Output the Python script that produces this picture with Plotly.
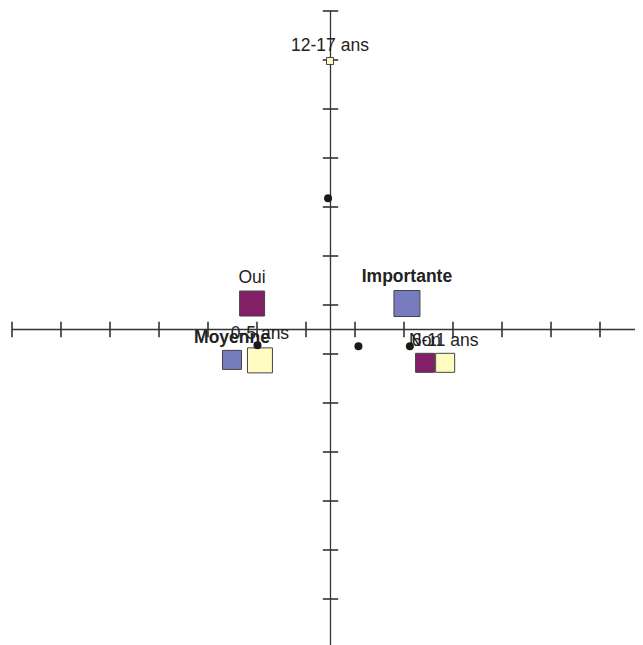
import plotly.graph_objects as go

# modalités (carrés) : coordonnées factorielles
purple_labels = ["Oui", "Non"]
purple_x = [-0.160, 0.193]
purple_y = [0.053, -0.068]
purple_size = [25, 19]

blue_labels = ["<b>Importante</b>", "<b>Moyenne</b>"]
blue_x = [0.156, -0.201]
blue_y = [0.053, -0.062]
blue_size = [26, 19]

yellow_labels = ["0-5 ans", "6-11 ans", "12-17 ans"]
yellow_x = [-0.144, 0.234, -0.001]
yellow_y = [-0.063, -0.068, 0.548]
yellow_size = [25, 19, 7]

# points supplémentaires (ronds noirs)
dot_x = [-0.005, -0.149, 0.057, 0.162]
dot_y = [0.268, -0.032, -0.034, -0.034]

# graduations des axes
ticks = [-0.65, -0.55, -0.45, -0.35, -0.25, -0.15, -0.05,
         0.05, 0.15, 0.25, 0.35, 0.45, 0.55, 0.65]
axis_min, axis_max = -0.65, 0.65

axis_color = "#333333"
text_font = dict(family="Arial, Liberation Sans, sans-serif", size=17.5, color="#222222")

# la page a une marge de 8 px : le graphique commence en (8, 8)
page_off = 8
fig_w, fig_h = 643 - page_off, 645 - page_off
x0_px, y0_px, px_per_unit = 330.5, 329.5, 490

fig = go.Figure()

# axes croisés en 0
fig.add_trace(go.Scatter(x=[axis_min, axis_max], y=[0, 0], mode="lines",
                         line=dict(color=axis_color, width=1.3), hoverinfo="skip"))
fig.add_trace(go.Scatter(x=[0, 0], y=[axis_min, axis_max], mode="lines",
                         line=dict(color=axis_color, width=1.3), hoverinfo="skip"))
fig.add_trace(go.Scatter(x=ticks, y=[0] * len(ticks), mode="markers",
                         marker=dict(symbol="line-ns-open", size=11, color=axis_color,
                                     line=dict(color=axis_color, width=1.6)),
                         hoverinfo="skip"))
fig.add_trace(go.Scatter(x=[0] * len(ticks), y=ticks, mode="markers",
                         marker=dict(symbol="line-ew-open", size=11, color=axis_color,
                                     line=dict(color=axis_color, width=1.6)),
                         hoverinfo="skip"))

for labels, xs, ys, sizes, color in [
    (yellow_labels, yellow_x, yellow_y, yellow_size, "#FFFBC2"),
    (purple_labels, purple_x, purple_y, purple_size, "#821F67"),
    (blue_labels, blue_x, blue_y, blue_size, "#777CBF"),
]:
    fig.add_trace(go.Scatter(
        x=xs, y=ys, mode="markers+text", text=labels,
        textposition="top center", textfont=text_font,
        marker=dict(symbol="square", size=sizes, color=color, opacity=1,
                    line=dict(color="#444444", width=1)),
    ))

fig.add_trace(go.Scatter(x=dot_x, y=dot_y, mode="markers",
                         marker=dict(symbol="circle", size=8, color="#1a1a1a", opacity=1)))

fig.update_layout(
    width=fig_w,
    height=fig_h,
    showlegend=False,
    plot_bgcolor="white",
    paper_bgcolor="white",
    margin=dict(l=0, r=0, t=0, b=0),
    xaxis=dict(range=[(page_off - x0_px) / px_per_unit,
                      (page_off + fig_w - x0_px) / px_per_unit],
               visible=False),
    yaxis=dict(range=[(y0_px - page_off - fig_h) / px_per_unit,
                      (y0_px - page_off) / px_per_unit],
               visible=False),
)

fig.write_html("out.html")
